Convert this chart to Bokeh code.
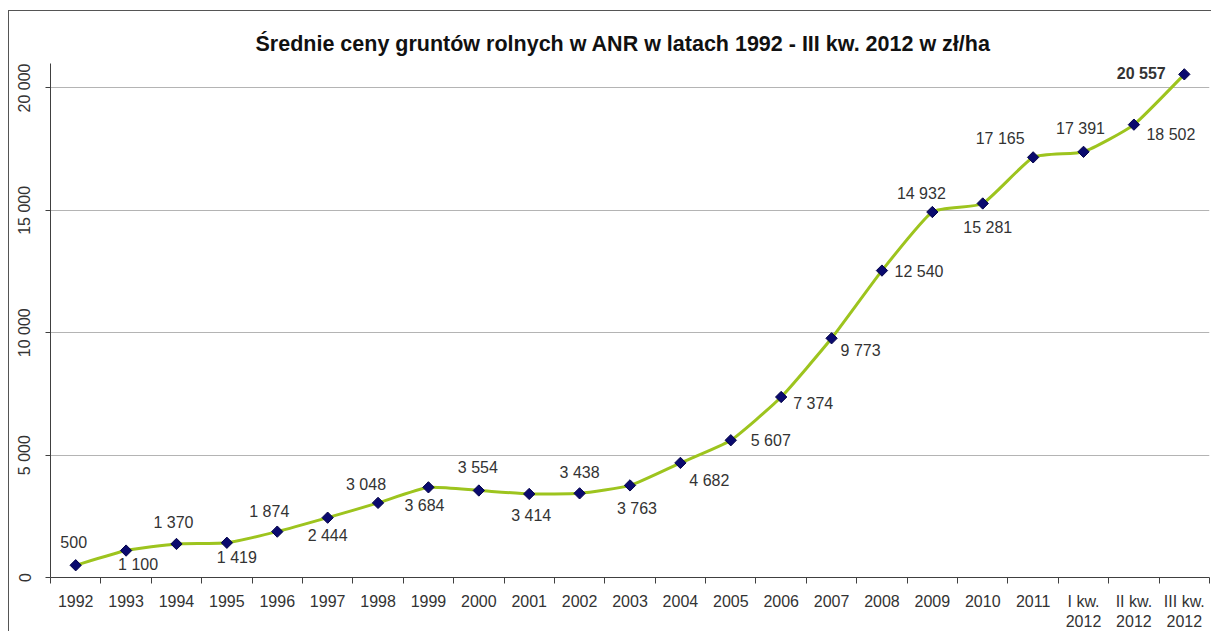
from bokeh.plotting import figure
from bokeh.models import ColumnDataSource, Range1d, FixedTicker
from bokeh.core.properties import value
from bokeh.embed import file_html
from bokeh.resources import INLINE

# ---- data ----
categories = ["1992", "1993", "1994", "1995", "1996", "1997", "1998", "1999",
              "2000", "2001", "2002", "2003", "2004", "2005", "2006", "2007",
              "2008", "2009", "2010", "2011",
              "I kw.\n2012", "II kw.\n2012", "III kw.\n2012"]
prices = [500, 1100, 1370, 1419, 1874, 2444, 3048, 3684, 3554, 3414, 3438,
          3763, 4682, 5607, 7374, 9773, 12540, 14932, 15281, 17165, 17391,
          18502, 20557]
y_ticks = [0, 5000, 10000, 15000, 20000]
y_tick_labels = ["0", "5 000", "10 000", "15 000", "20 000"]
title_text = "Średnie ceny gruntów rolnych w ANR w latach 1992 - III kw. 2012 w zł/ha"

# ---- label placement (styling, pixels) ----
label_dx = [-2, 12, -3, 10, -8, 0, -12, -4, -1, 2, 0, 7, 29, 40, 32, 29, 37,
            -11, 5, -33, -3, 37, -43]
label_dy = [-23, 14, -21, 15, -20, 18, -18, 18, -23, 22, -21, 23, 18, 0, 6,
            12, 1, -19, 24, -19, -23, 10, -1]

FONT = "Liberation Sans"
xs = list(range(len(prices)))
labels = [f"{v:,}".replace(",", " ") for v in prices]
styles = ["normal"] * (len(prices) - 1) + ["bold"]

src = ColumnDataSource(dict(x=xs, y=prices, label=labels, dx=label_dx,
                            dy=label_dy, style=styles))

p = figure(width=1203, height=621, output_backend="svg", toolbar_location=None,
           x_range=Range1d(-0.5, len(prices) - 0.5), y_range=Range1d(0, 21000),
           min_border_left=41, min_border_right=3, min_border_top=52,
           min_border_bottom=53)
p.outline_line_color = None
p.background_fill_color = "white"
p.border_fill_color = "white"
p.styles = {"margin-left": "8px", "margin-top": "10px",
            "border-left": "1px solid #555555", "border-top": "1px solid #555555"}

p.title.text = title_text
p.title.align = "left"
p.title.offset = 205
p.title.standoff = 15
p.title.text_font = FONT
p.title.text_font_size = "21.5px"
p.title.text_font_style = "bold"
p.title.text_color = "#111111"

# slightly smoothed line (Bezier through the points)
n = len(prices)
k = 1.0 / 12.0
x0s, y0s, x1s, y1s, cx0, cy0, cx1, cy1 = [], [], [], [], [], [], [], []
for i in range(n - 1):
    a = max(i - 1, 0)
    d = min(i + 2, n - 1)
    x0s.append(xs[i]); y0s.append(prices[i])
    x1s.append(xs[i + 1]); y1s.append(prices[i + 1])
    cx0.append(xs[i] + (xs[i + 1] - xs[a]) * k)
    cy0.append(prices[i] + (prices[i + 1] - prices[a]) * k)
    cx1.append(xs[i + 1] - (xs[d] - xs[i]) * k)
    cy1.append(prices[i + 1] - (prices[d] - prices[i]) * k)
p.bezier(x0=x0s, y0=y0s, x1=x1s, y1=y1s, cx0=cx0, cy0=cy0, cx1=cx1, cy1=cy1,
         line_color="#9DC41E", line_width=3)

p.scatter(x="x", y="y", source=src, marker="square", angle=0.785398,
          size=8, fill_color="#0A0A6E", line_color="#05054A", line_width=1)

p.text(x="x", y="y", text="label", x_offset="dx", y_offset="dy", source=src,
       text_align="center", text_baseline="middle", text_font=value(FONT),
       text_font_size="16px", text_color="#333333", text_font_style="style")

# axes
p.xgrid.visible = False
p.ygrid.grid_line_color = "#B4B4B4"
p.ygrid.grid_line_width = 1

xa = p.xaxis[0]
xa.ticker = FixedTicker(ticks=xs, minor_ticks=[i - 0.5 for i in range(n + 1)])
xa.major_label_overrides = {i: c for i, c in enumerate(categories)}
xa.major_tick_in = 0
xa.major_tick_out = 0
xa.minor_tick_in = 0
xa.minor_tick_out = 6
xa.minor_tick_line_color = "#404040"
xa.axis_line_color = "#404040"
xa.major_label_text_font = FONT
xa.major_label_text_font_size = "16px"
xa.major_label_text_color = "#333333"
xa.major_label_standoff = 9

ya = p.yaxis[0]
ya.ticker = FixedTicker(ticks=y_ticks, minor_ticks=[])
ya.major_label_overrides = {t: l for t, l in zip(y_ticks, y_tick_labels)}
ya.major_label_orientation = "vertical"
ya.major_tick_in = 0
ya.major_tick_out = 5
ya.minor_tick_out = 0
ya.minor_tick_in = 0
ya.axis_line_color = "#404040"
ya.major_tick_line_color = "#404040"
ya.major_label_text_font = FONT
ya.major_label_text_font_size = "16px"
ya.major_label_text_color = "#333333"
ya.major_label_standoff = 12

open("out.html", "w").write(file_html(p, INLINE))
